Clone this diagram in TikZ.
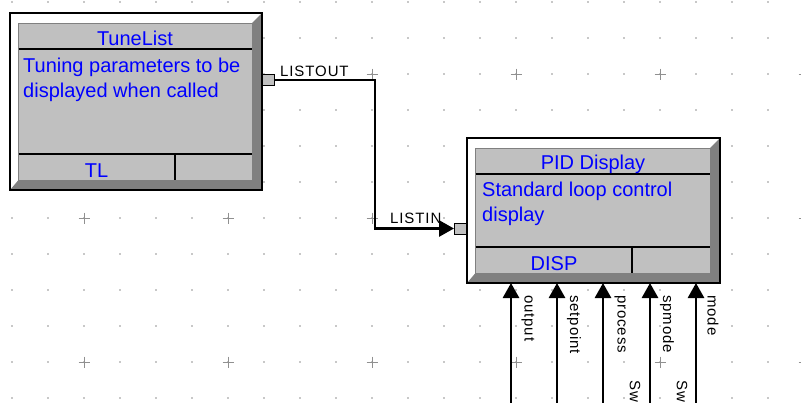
\documentclass[tikz,border=0pt]{standalone}
\usepackage{fontspec}
\setmainfont{Liberation Sans}
\newfontfamily\sigfont[LetterSpace=6]{Liberation Sans}
\usetikzlibrary{arrows.meta,positioning,calc}
\definecolor{panel}{HTML}{C0C0C0}
\definecolor{fbdark}{HTML}{808080}
\definecolor{fbtext}{HTML}{0000FF}
\definecolor{gridgray}{HTML}{909090}

\begin{document}
\begin{tikzpicture}[x=1pt, y=-1pt,
  fbtitle/.style={font=\fontsize{20}{25}\selectfont, text=fbtext, inner sep=0pt, anchor=base},
  fbdesc/.style={fbtitle, align=left, anchor=base west},
  sig/.style={font=\sigfont\fontsize{15}{18}\selectfont, inner sep=0pt, anchor=base west},
  vsig/.style={sig, rotate=-90, anchor=west},
  portbox/.style={draw=black, fill=panel, line width=1pt, minimum width=12pt, minimum height=11pt, inner sep=0pt},
  wire/.style={line width=2.8pt, -{Triangle[length=15pt,width=16pt]}},
  divline/.style={line width=1.5pt}]
  \useasboundingbox (0,0) rectangle (801,402);
  % grid
  \foreach \gx in {0,...,22} {\foreach \gy in {0,...,11} {\fill[gridgray] (12+36*\gx,2+36*\gy) circle (0.8);}}
  \foreach \px in {84,228,...,804} {\foreach \py in {74,218,362} {
    \draw[gridgray, line width=1pt] (\px-5.5,\py) -- (\px+5.5,\py) (\px,\py-5.5) -- (\px,\py+5.5);}}
  % function blocks
  \foreach \ax/\ay/\bx/\by/\dx in {10/13/262/190/175, 467/138/720/283/632} {
    \fill[white] (\ax,\ay) rectangle (\bx,\by);
    \fill[fbdark] (\bx,\ay) -- (\bx,\by) -- (\ax,\by) -- (\ax+8.5,\by-10) -- (\bx-10,\by-10) -- (\bx-10,\ay+10) -- cycle;
    \filldraw[fill=panel, draw=fbdark, line width=0.5pt] (\ax+8.5,\ay+10) rectangle (\bx-10,\by-10);
    \draw[divline] (\ax+8.5,\ay+36) -- (\bx-10,\ay+36) (\ax+8.5,\by-36) -- (\bx-10,\by-36) (\dx,\by-36) -- (\dx,\by-10);
    \draw[line width=1.2pt] (\ax,\ay) rectangle (\bx,\by);
  }
  \node[fbtitle] (tltitle) at (135,45) {TuneList};
  \node[fbdesc] (tldesc) at (23,97) {Tuning parameters to be\\displayed when called};
  \node[fbtitle] (tltag) at (96.5,177) {TL};
  \node[fbtitle] (pidtitle) at (593,169) {PID Display};
  \node[fbdesc] (piddesc) at (482,221) {Standard loop control\\display};
  \node[fbtitle] (pidtag) at (554,270) {DISP};
  % list connection
  \node[portbox, anchor=west] (listout) at (262,80) {};
  \node[portbox, anchor=east] (listin) at (467,228.5) {};
  \node[sig] (listoutlbl) at (280,76) {LISTOUT};
  \node[sig] (listinlbl) at (390,223) {LISTIN};
  \draw[wire] (listout.east) -- ++(100,0) |- (listin.west);
  % inputs of the display block
  \foreach \n/\wx/\lbl in {1/511/output, 2/557/setpoint, 3/603/process, 4/650/spmode, 5/696/mode} {
    \coordinate (in\n) at (\wx,283);
    \coordinate (src\n) at (\wx,410);
    \draw[wire] (src\n) -- (in\n);
    \node[vsig] (lbl\n) at (\wx+17,295) {\lbl};
  }
  \node[vsig] (sw4) at (635,380) {Sw};
  \node[vsig] (sw5) at (682,380) {Sw};
\end{tikzpicture}
\end{document}
